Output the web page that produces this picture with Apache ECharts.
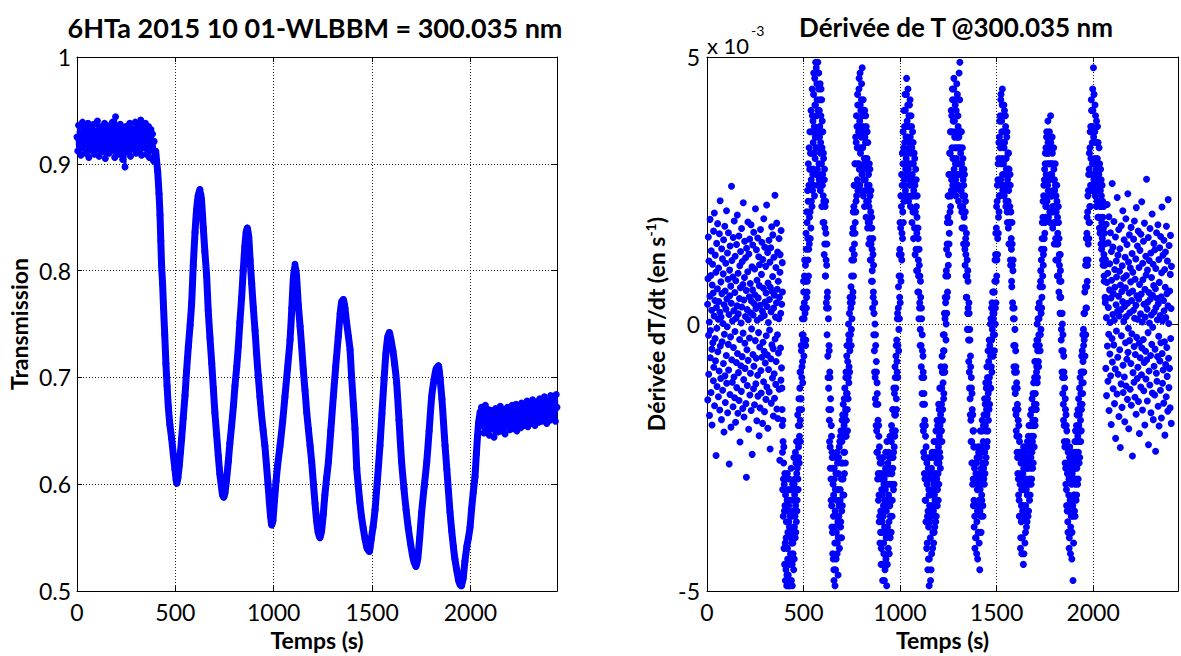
<!DOCTYPE html>
<html><head><meta charset="utf-8">
<script src="https://cdn.jsdelivr.net/npm/echarts@6/dist/echarts.min.js"></script>
<style>html,body{margin:0;padding:0;background:#fff}#c{width:1181px;height:656px}</style>
</head><body><div id="c"></div>
<script>
// ---------- DATA ----------
const timeMin = 0, timeMax = 2440;              // seconds
const timeTickStep = 500;
const transRange = [0.5, 1.0];
const derivRange = [-5, 5];                      // units of 1e-3 s^-1

// Transmission: noisy plateau before the oscillations
const transBeforeT = [0,4,8,12,16,20,24,28,32,36,40,44,48,52,56,60,64,68,72,76,80,84,88,92,96,100,104,108,112,116,120,124,128,132,136,140,144,148,152,156,160,164,168,172,176,180,184,188,192,196,200,204,208,212,216,220,224,228,232,236,240,244,248,252,256,260,264,268,272,276,280,284,288,292,296,300,304,308,312,316,320,324,328,332,336,340,344,348,352,356,360,364,368,372,376,380,384,388,392,396];
const transBeforeV = [0.925,0.912,0.936,0.918,0.930,0.908,0.927,0.939,0.915,0.922,
0.934,0.910,0.929,0.917,0.938,0.906,0.924,0.933,0.913,0.928,
0.919,0.937,0.909,0.926,0.931,0.914,0.940,0.921,0.907,0.932,
0.918,0.935,0.911,0.927,0.923,0.938,0.905,0.929,0.916,0.934,
0.920,0.910,0.936,0.925,0.913,0.939,0.917,0.930,0.906,0.944,
0.921,0.912,0.933,0.926,0.909,0.937,0.919,0.928,0.904,0.932,
0.915,0.897,0.935,0.922,0.911,0.930,0.918,0.938,0.907,0.926,
0.933,0.914,0.929,0.920,0.939,0.910,0.924,0.936,0.912,0.931,
0.917,0.941,0.908,0.927,0.934,0.915,0.922,0.938,0.909,0.930,
0.919,0.935,0.906,0.925,0.932,0.913,0.928,0.903,0.921,0.910];

// Transmission: damped oscillation (t, T)
const transOscillation = [[400,0.912],[405,0.902],[410,0.893],[417,0.872],[422,0.852],[426,0.828],[430,0.805],[435,0.788],[440,0.765],[446,0.740],[452,0.713],[458,0.692],[464,0.673],[472,0.656],[481,0.643],[490,0.627],[498,0.614],[504,0.604],[508,0.601],[513,0.606],[520,0.618],[526,0.630],[532,0.643],[540,0.662],[549,0.683],[557,0.706],[566,0.729],[575,0.749],[583,0.770],[591,0.805],[600,0.836],[608,0.857],[616,0.870],[625,0.876],[633,0.866],[642,0.840],[650,0.818],[659,0.795],[667,0.763],[676,0.737],[685,0.713],[693,0.690],[701,0.667],[710,0.646],[718,0.627],[726,0.610],[734,0.598],[740,0.590],[746,0.588],[752,0.592],[760,0.604],[769,0.621],[777,0.638],[786,0.655],[795,0.673],[803,0.692],[812,0.710],[820,0.729],[828,0.752],[837,0.775],[845,0.800],[853,0.822],[860,0.836],[866,0.840],[873,0.832],[880,0.810],[888,0.788],[896,0.766],[905,0.744],[913,0.722],[921,0.702],[930,0.682],[938,0.665],[946,0.651],[955,0.636],[963,0.618],[971,0.600],[978,0.583],[984,0.570],[990,0.562],[996,0.566],[1004,0.585],[1012,0.603],[1020,0.618],[1032,0.636],[1045,0.658],[1057,0.682],[1070,0.708],[1083,0.735],[1092,0.765],[1100,0.793],[1108,0.806],[1116,0.795],[1125,0.768],[1134,0.748],[1142,0.729],[1150,0.708],[1159,0.688],[1168,0.667],[1176,0.652],[1185,0.636],[1193,0.621],[1202,0.600],[1210,0.582],[1218,0.566],[1226,0.555],[1235,0.550],[1243,0.556],[1252,0.572],[1260,0.590],[1269,0.606],[1278,0.621],[1290,0.650],[1303,0.682],[1315,0.710],[1328,0.738],[1338,0.760],[1346,0.771],[1354,0.773],[1362,0.765],[1370,0.752],[1380,0.738],[1388,0.726],[1396,0.700],[1405,0.675],[1413,0.652],[1422,0.615],[1430,0.598],[1438,0.583],[1446,0.570],[1455,0.559],[1465,0.548],[1475,0.540],[1486,0.537],[1495,0.548],[1505,0.560],[1515,0.576],[1527,0.604],[1540,0.636],[1550,0.666],[1561,0.698],[1570,0.722],[1580,0.738],[1588,0.742],[1596,0.735],[1606,0.725],[1615,0.712],[1625,0.695],[1637,0.660],[1650,0.621],[1662,0.596],[1673,0.576],[1684,0.559],[1695,0.545],[1705,0.534],[1714,0.527],[1723,0.523],[1732,0.530],[1742,0.550],[1752,0.574],[1765,0.598],[1778,0.621],[1790,0.650],[1803,0.682],[1815,0.698],[1826,0.708],[1837,0.711],[1846,0.698],[1855,0.680],[1863,0.658],[1871,0.636],[1880,0.614],[1888,0.594],[1896,0.574],[1905,0.556],[1913,0.542],[1921,0.530],[1930,0.520],[1940,0.510],[1948,0.506],[1955,0.505],[1963,0.512],[1972,0.528],[1982,0.542],[1990,0.550],[1998,0.560],[2006,0.577],[2014,0.592],[2023,0.607],[2030,0.628],[2036,0.645],[2042,0.658],[2050,0.668]];

// Transmission: noisy plateau after the oscillations
const transAfterT = [2056,2060,2064,2068,2072,2076,2080,2084,2088,2092,2096,2100,2104,2108,2112,2116,2120,2124,2128,2132,2136,2140,2144,2148,2152,2156,2160,2164,2168,2172,2176,2180,2184,2188,2192,2196,2200,2204,2208,2212,2216,2220,2224,2228,2232,2236,2240,2244,2248,2252,2256,2260,2264,2268,2272,2276,2280,2284,2288,2292,2296,2300,2304,2308,2312,2316,2320,2324,2328,2332,2336,2340,2344,2348,2352,2356,2360,2364,2368,2372,2376,2380,2384,2388,2392,2396,2400,2404,2408,2412,2416,2420,2424,2428,2432,2436,2440];
const transAfterV = [0.672,0.655,0.668,0.648,0.662,0.674,0.651,0.665,0.658,0.670,
0.646,0.663,0.657,0.669,0.652,0.666,0.644,0.661,0.671,0.654,
0.664,0.649,0.668,0.659,0.673,0.650,0.662,0.667,0.653,0.670,
0.647,0.664,0.658,0.672,0.655,0.666,0.651,0.669,0.660,0.674,
0.652,0.663,0.668,0.656,0.675,0.650,0.665,0.671,0.657,0.667,
0.653,0.676,0.661,0.669,0.655,0.673,0.659,0.664,0.678,0.654,
0.670,0.662,0.675,0.657,0.668,0.679,0.660,0.672,0.655,0.666,
0.677,0.661,0.670,0.658,0.680,0.664,0.673,0.659,0.676,0.667,
0.682,0.662,0.671,0.657,0.678,0.665,0.674,0.660,0.683,0.668,
0.676,0.663,0.681,0.669,0.659,0.684,0.672];

// Derivative (x 1e-3 s^-1): noise cloud before the oscillations
const derivBeforeT = [3,4,5,7,8,9,10,12,13,15,16,17,18,20,21,22,24,25,26,27,29,30,32,33,34,35,37,38,39,41,42,43,44,46,47,49,50,51,52,54,55,56,58,59,60,61,63,64,66,67,68,69,71,72,73,75,76,77,78,80,81,83,84,85,86,88,89,90,92,93,94,95,97,98,100,101,102,103,105,106,107,109,110,111,112,114,115,117,118,119,120,122,123,124,126,127,128,129,131,132,134,135,136,137,139,140,141,143,144,145,146,148,149,151,152,153,154,156,157,158,160,161,162,163,165,166,168,169,170,171,173,174,175,177,178,179,180,182,183,185,186,187,188,190,191,192,194,195,196,197,199,200,202,203,204,205,207,208,209,211,212,213,214,216,217,219,220,221,222,224,225,226,228,229,230,231,233,234,236,237,238,239,241,242,243,245,246,247,248,250,251,253,254,255,256,258,259,260,262,263,264,265,267,268,270,271,272,273,275,276,277,279,280,281,282,284,285,287,288,289,290,292,293,294,296,297,298,299,301,302,304,305,306,307,309,310,311,313,314,315,316,318,319,321,322,323,324,326,327,328,330,331,332,333,335,336,338,339,340,341,343,344,345,347,348,349,350,352,353,355,356,357,358,360,361,362,364,365,366,367,369,370,372,373,374,375,377,378,379,381,382,383,384,386,387,389,390,391];
const derivBeforeV = [0.37,-1.42,0.85,1.63,-0.21,-0.94,1.18,0.04,-1.71,0.52,1.96,-0.63,-0.12,0.91,-1.28,1.37,0.26,-0.47,-1.89,0.73,1.12,-0.35,0.58,-1.06,1.74,-0.81,0.15,2.08,-1.53,0.44,-0.27,1.29,-0.69,0.97,-2.46,0.31,1.51,-0.08,-1.17,0.66,1.88,-0.52,0.09,-1.36,1.05,0.42,-0.88,1.69,-1.61,0.22,2.31,-0.41,-1.02,0.79,0.13,-1.79,1.41,0.57,-0.33,1.22,-1.24,0.01,0.94,-0.74,1.58,-2.02,0.36,-0.19,1.83,-0.97,0.62,-1.47,1.14,0.28,-0.59,2.12,-1.11,0.47,-0.05,1.33,-1.66,0.84,-0.38,1.71,-0.86,0.18,-2.62,1.01,0.53,-1.32,1.46,-0.24,0.71,-1.93,0.39,2.58,-0.67,1.19,-1.09,0.06,0.88,-1.55,1.62,-0.44,0.25,-0.99,1.93,-1.38,0.59,-0.14,1.27,-1.84,0.81,0.11,-0.72,1.49,-1.19,0.34,2.04,-0.55,-1.67,0.95,0.19,-0.91,1.65,-1.43,0.48,-0.29,1.09,-2.21,0.68,1.36,-0.78,0.02,-1.26,1.79,0.32,-0.61,1.17,-1.58,0.74,-0.17,2.27,-1.04,0.45,-1.74,0.87,1.55,-0.36,-0.83,0.14,1.24,-1.49,0.63,-2.87,1.42,-0.48,0.27,-1.15,0.98,1.91,-0.68,0.08,-1.97,1.31,0.51,-0.26,1.59,-1.33,0.76,-0.92,0.21,1.86,-1.62,0.43,-0.09,1.07,-2.44,0.64,1.48,-0.57,0.17,-1.21,1.72,-0.79,0.38,-1.51,1.03,0.55,-0.31,2.16,-1.12,0.29,-0.64,1.39,-1.81,0.82,0.07,-0.96,1.61,-1.35,0.49,-0.16,1.26,-2.09,0.72,1.11,-0.43,-1.57,0.35,1.77,-0.87,0.12,-1.29,0.93,1.53,-0.62,0.24,-1.86,1.21,-0.34,0.67,-1.08,1.97,-0.51,0.16,-1.64,1.44,0.41,-0.73,1.08,-1.41,0.58,-0.22,2.23,-1.18,0.33,-0.58,1.34,-1.95,0.77,0.03,-0.85,1.57,-1.27,0.46,-0.11,1.16,-2.34,0.69,1.43,-0.65,0.23,-1.48,1.82,-0.39,0.61,-1.01,0.89,1.67,-0.46,-1.72,0.30,1.25,-0.93,0.54,-1.39,2.41,-0.28,0.13,-1.13,1.06,-0.70,0.40,1.89,-1.59,0.65,-0.20,1.35,-1.77,0.80,-0.54,0.10,1.60,-1.22,0.50,-2.55,0.97,1.30,-0.45,0.20,-1.05,1.75,-0.82,0.37,-1.60,1.15,0.60,-0.30,2.00];

// Derivative: the initial drop (t, dT/dt)
const derivDrop = [[388,-1.2],[391,-2.4],[393,-1.8],[396,-2.9],[398,-2.3],[401,-3.5],[403,-2.8],[405,-4.1],[407,-3.2],[409,-4.6],[411,-3.7],[413,-4.9],[415,-3.3],[417,-4.2],[419,-3.9],[421,-4.7],[423,-3.4],[425,-4.4],[427,-3.8],[429,-4.9],[431,-3.6],[433,-4.3],[435,-3.1],[437,-4.8],[439,-3.9],[441,-4.5],[443,-3.5],[445,-4.1],[447,-3.3],[449,-4.6],[451,-3.0],[453,-3.8],[455,-2.9],[457,-4.0],[459,-3.4],[461,-2.6],[463,-3.7],[465,-2.8],[467,-3.3],[469,-2.2],[471,-2.9],[473,-1.9],[475,-2.5],[477,-1.6],[479,-2.1],[481,-1.2],[483,-1.8],[485,-0.9],[487,-1.4],[489,-0.5],[491,-1.0],[493,-0.2],[495,-0.7],[497,0.3],[499,-0.3],[501,0.6],[503,0.1],[505,0.9],
[390,-1.9],[392,-3.1],[394,-2.2],[395,-3.6],[397,-2.6],[399,-4.2],[400,-3.0],[402,-4.5],[404,-3.4],[406,-4.8],[408,-2.9],[410,-4.0],[412,-3.5],[414,-4.7],[416,-2.8],[418,-4.4],[420,-3.1],[422,-4.9],[424,-3.7],[426,-2.9],[428,-4.5],[430,-3.3],[432,-4.0],[434,-4.8],[436,-2.7],[438,-4.1],[440,-3.6],[442,-4.9],[444,-3.0],[446,-4.3],[448,-3.8],[450,-2.5],[452,-4.4],[454,-3.2],[456,-3.6],[458,-2.4],[460,-3.9],[462,-3.1],[464,-2.2],[466,-3.5],[468,-2.7],[470,-1.7],[472,-3.1],[474,-2.3],[476,-1.4],[478,-2.6],[480,-1.9],[482,-0.9],[484,-2.2],[486,-1.4],[488,-0.4],[490,-1.6],[492,-0.8],[494,0.1],[496,-1.1],[498,-0.2],[500,0.8],[502,-0.6],[504,0.4],[506,1.2]];

// Derivative: oscillations, even seconds (t, dT/dt)
const derivWaves = [
[508,0.2],[510,1.1],[512,-0.3],[514,1.4],[516,0.5],[518,1.9],[520,0.8],[522,1.6],[524,2.3],[526,0.9],[528,2.6],[530,1.5],[532,2.9],[534,2.1],[536,3.2],[538,1.8],[540,2.7],[542,3.6],[544,2.2],[546,3.9],[548,2.8],[550,3.4],[552,4.3],[554,2.6],[556,3.7],[558,4.6],[560,3.1],[562,4.1],[564,3.3],[566,4.8],[568,3.6],[570,4.2],[572,2.9],[574,4.9],[576,3.5],[578,4.4],[580,3.0],[582,4.0],[584,3.7],[586,4.5],[588,3.2],[590,3.9],[592,2.8],[594,4.2],[596,3.3],[598,2.6],[600,3.6],[602,2.4],[604,3.1],[606,1.9],[608,2.7],[610,1.5],[612,2.2],[614,0.9],[616,1.7],[618,0.4],[620,1.1],[622,-0.2],[624,0.6],
[626,-0.6],[628,0.3],[630,-1.2],[632,-0.4],[634,-1.8],[636,-0.9],[638,-2.3],[640,-1.4],[642,-2.9],[644,-1.9],[646,-3.4],[648,-2.4],[650,-3.9],[652,-2.7],[654,-4.4],[656,-3.2],[658,-4.8],[660,-2.9],[662,-4.1],[664,-3.5],[666,-4.6],[668,-2.8],[670,-3.9],[672,-3.3],[674,-4.3],[676,-2.6],[678,-3.7],[680,-4.0],[682,-2.5],[684,-3.4],[686,-4.2],[688,-2.2],[690,-3.1],[692,-3.8],[694,-2.0],[696,-2.9],[698,-3.5],[700,-1.8],[702,-2.6],[704,-3.2],[706,-1.5],[708,-2.4],[710,-1.9],[712,-2.8],[714,-1.2],[716,-2.1],[718,-1.6],[720,-0.9],[722,-1.8],[724,-0.6],[726,-1.3],[728,-2.0],[730,-0.4],[732,-1.0],[734,-0.2],[736,-0.8],[738,0.2],[740,-0.5],[742,0.4],
[745,0.3],[747,-0.4],[749,0.9],[751,0.1],[753,1.4],[755,0.5],[757,1.8],[759,0.9],[761,2.2],[763,1.3],[765,2.6],[767,1.7],[769,3.0],[771,2.1],[773,3.4],[775,2.4],[777,3.7],[779,2.7],[781,4.1],[783,3.0],[785,3.6],[787,4.4],[789,2.9],[791,3.8],[793,4.7],[795,3.2],[797,4.0],[799,3.5],[801,4.5],[803,2.8],[805,3.9],[807,3.3],[809,4.2],[811,2.7],[813,3.6],[815,3.1],[817,4.0],[819,2.5],[821,3.4],[823,2.9],[825,3.7],[827,2.3],[829,3.1],[831,2.6],[833,3.4],[835,1.9],[837,2.8],[839,2.2],[841,3.0],[843,1.6],[845,2.4],[847,1.8],[849,2.5],[851,1.2],[853,2.0],[855,1.4],[857,0.8],[859,1.6],[861,0.5],[863,1.1],[865,0.2],
[867,-0.5],[869,0.4],[871,-1.0],[873,-0.2],[875,-1.5],[877,-0.7],[879,-2.0],[881,-1.1],[883,-2.4],[885,-1.5],[887,-2.8],[889,-1.9],[891,-3.2],[893,-2.3],[895,-3.6],[897,-2.6],[899,-3.9],[901,-2.9],[903,-4.2],[905,-3.1],[907,-3.7],[909,-4.5],[911,-2.8],[913,-3.6],[915,-4.1],[917,-3.0],[919,-4.8],[921,-3.3],[923,-3.9],[925,-2.7],[927,-4.4],[929,-3.5],[931,-4.9],[933,-3.0],[935,-3.8],[937,-2.6],[939,-4.2],[941,-3.2],[943,-3.7],[945,-2.5],[947,-3.4],[949,-4.0],[951,-2.7],[953,-3.3],[955,-2.2],[957,-3.0],[959,-3.6],[961,-2.0],[963,-2.7],[965,-1.6],[967,-2.4],[969,-3.0],[971,-1.3],[973,-2.1],[975,-1.0],[977,-1.7],[979,-0.6],[981,-1.4],[983,-0.3],[985,-0.9],[987,0.2],[989,-0.4],
[991,0.3],[993,-0.5],[995,0.9],[997,0.1],[999,1.4],[1001,0.4],[1003,1.8],[1005,0.8],[1007,2.2],[1009,1.2],[1011,2.6],[1013,1.6],[1015,3.0],[1017,1.9],[1019,3.3],[1021,2.3],[1023,3.7],[1025,2.6],[1027,4.0],[1029,2.9],[1031,3.5],[1033,4.3],[1035,2.8],[1037,3.8],[1039,3.2],[1041,4.4],[1043,2.9],[1045,3.7],[1047,3.3],[1049,4.1],[1051,2.6],[1053,3.5],[1055,3.0],[1057,3.9],[1059,2.4],[1061,3.3],[1063,2.8],[1065,3.6],[1067,2.1],[1069,3.0],[1071,2.5],[1073,3.2],[1075,1.8],[1077,2.6],[1079,2.1],[1081,2.9],[1083,1.4],[1085,2.2],[1087,1.7],[1089,2.4],[1091,1.0],[1093,1.8],[1095,1.2],[1097,0.6],[1099,1.4],[1101,0.3],[1103,0.9],[1105,-0.1],[1107,0.5],
[1109,-0.4],[1111,0.3],[1113,-1.0],[1115,-0.2],[1117,-1.5],[1119,-0.6],[1121,-2.0],[1123,-1.0],[1125,-2.5],[1127,-1.5],[1129,-2.9],[1131,-1.9],[1133,-3.3],[1135,-2.3],[1137,-3.7],[1139,-2.6],[1141,-4.1],[1143,-2.9],[1145,-3.5],[1147,-4.4],[1149,-3.1],[1151,-4.9],[1153,-3.4],[1155,-2.8],[1157,-4.0],[1159,-3.2],[1161,-4.6],[1163,-2.7],[1165,-3.6],[1167,-3.1],[1169,-4.2],[1171,-2.5],[1173,-3.5],[1175,-3.0],[1177,-3.9],[1179,-2.4],[1181,-3.3],[1183,-2.8],[1185,-3.7],[1187,-2.2],[1189,-3.1],[1191,-2.6],[1193,-3.4],[1195,-1.9],[1197,-2.8],[1199,-2.3],[1201,-3.0],[1203,-1.6],[1205,-2.4],[1207,-1.9],[1209,-2.7],[1211,-1.2],[1213,-2.0],[1215,-1.5],[1217,-2.2],[1219,-0.9],[1221,-1.6],[1223,-1.1],[1225,-0.5],[1227,-1.3],[1229,-0.2],[1231,-0.8],[1233,0.1],
[1236,0.4],[1238,-0.3],[1240,1.0],[1242,0.2],[1244,1.5],[1246,0.6],[1248,2.0],[1250,1.1],[1252,2.4],[1254,1.5],[1256,2.8],[1258,1.9],[1260,3.2],[1262,2.2],[1264,3.6],[1266,2.5],[1268,3.9],[1270,2.8],[1272,4.2],[1274,3.1],[1276,3.6],[1278,4.4],[1280,2.9],[1282,3.8],[1284,3.3],[1286,4.1],[1288,2.7],[1290,3.6],[1292,3.1],[1294,4.5],[1296,2.8],[1298,3.5],[1300,3.9],[1302,2.6],[1304,3.3],[1306,4.7],[1308,3.0],[1310,4.9],[1312,2.5],[1314,3.2],[1316,2.8],[1318,3.6],[1320,2.1],[1322,2.9],[1324,2.4],[1326,3.1],[1328,1.8],[1330,2.6],[1332,2.0],[1334,2.8],[1336,1.4],[1338,2.1],[1340,1.6],[1342,0.9],[1344,1.7],[1346,0.5],[1348,1.2],[1350,0.2],[1352,0.8],
[1355,-0.3],[1357,0.4],[1359,-0.9],[1361,-0.1],[1363,-1.4],[1365,-0.6],[1367,-1.8],[1369,-1.0],[1371,-2.2],[1373,-1.3],[1375,-2.6],[1377,-1.7],[1379,-2.9],[1381,-2.0],[1383,-3.3],[1385,-2.3],[1387,-3.6],[1389,-2.6],[1391,-4.0],[1393,-2.8],[1395,-3.4],[1397,-4.3],[1399,-2.5],[1401,-3.5],[1403,-3.0],[1405,-3.9],[1407,-2.4],[1409,-3.3],[1411,-2.8],[1413,-4.6],[1415,-3.1],[1417,-2.3],[1419,-3.6],[1421,-2.7],[1423,-3.2],[1425,-2.0],[1427,-2.9],[1429,-3.4],[1431,-2.2],[1433,-2.7],[1435,-1.7],[1437,-3.0],[1439,-2.4],[1441,-1.5],[1443,-2.6],[1445,-2.0],[1447,-1.2],[1449,-2.3],[1451,-1.7],[1453,-1.0],[1455,-2.0],[1457,-1.3],[1459,-0.7],[1461,-1.6],[1463,-1.0],[1465,-0.4],[1467,-1.2],[1469,-0.6],[1471,0.1],[1473,-0.8],[1475,-0.3],[1477,0.4],[1479,-0.5],[1481,0.2],[1483,-0.2],[1485,0.6],
[1487,0.2],[1489,-0.5],[1491,0.8],[1493,0.0],[1495,1.3],[1497,0.4],[1499,1.8],[1501,0.9],[1503,2.3],[1505,1.3],[1507,2.7],[1509,1.7],[1511,3.1],[1513,2.1],[1515,3.5],[1517,2.4],[1519,3.9],[1521,2.7],[1523,4.3],[1525,3.0],[1527,3.6],[1529,4.1],[1531,2.8],[1533,3.4],[1535,3.9],[1537,2.6],[1539,3.3],[1541,4.0],[1543,2.5],[1545,3.1],[1547,3.7],[1549,2.3],[1551,2.9],[1553,3.5],[1555,2.1],[1557,2.7],[1559,3.2],[1561,1.8],[1563,2.5],[1565,2.9],[1567,1.5],[1569,2.2],[1571,2.6],[1573,1.1],[1575,1.9],[1577,1.4],[1579,0.7],[1581,1.5],[1583,0.4],[1585,1.0],[1587,0.1],
[1589,-0.4],[1591,0.3],[1593,-0.9],[1595,-0.1],[1597,-1.3],[1599,-0.5],[1601,-1.7],[1603,-0.9],[1605,-2.1],[1607,-1.2],[1609,-2.5],[1611,-1.6],[1613,-2.9],[1615,-1.9],[1617,-3.3],[1619,-2.2],[1621,-3.6],[1623,-2.5],[1625,-4.0],[1627,-2.8],[1629,-3.4],[1631,-4.3],[1633,-2.6],[1635,-3.5],[1637,-3.0],[1639,-4.5],[1641,-2.7],[1643,-3.6],[1645,-3.1],[1647,-4.1],[1649,-2.5],[1651,-3.4],[1653,-2.9],[1655,-3.8],[1657,-2.3],[1659,-3.2],[1661,-2.7],[1663,-3.6],[1665,-2.1],[1667,-3.0],[1669,-2.5],[1671,-3.3],[1673,-1.9],[1675,-2.7],[1677,-2.2],[1679,-3.0],[1681,-1.6],[1683,-2.4],[1685,-1.9],[1687,-2.7],[1689,-1.3],[1691,-2.1],[1693,-1.6],[1695,-2.3],[1697,-1.0],[1699,-1.8],[1701,-1.3],[1703,-0.7],[1705,-1.5],[1707,-0.9],[1709,-0.3],[1711,-1.1],[1713,-0.5],[1715,0.1],[1717,-0.7],[1719,-0.2],[1721,0.4],
[1724,0.3],[1726,-0.5],[1728,0.8],[1730,-0.1],[1732,1.2],[1734,0.3],[1736,1.6],[1738,0.7],[1740,2.0],[1742,1.1],[1744,2.4],[1746,1.4],[1748,2.7],[1750,1.7],[1752,3.0],[1754,2.0],[1756,3.3],[1758,2.2],[1760,3.6],[1762,2.4],[1764,3.0],[1766,3.8],[1768,2.5],[1770,3.2],[1772,2.7],[1774,3.6],[1776,2.1],[1778,3.0],[1780,3.9],[1782,2.4],[1784,3.3],[1786,2.8],[1788,3.5],[1790,2.2],[1792,3.0],[1794,2.5],[1796,3.3],[1798,1.9],[1800,2.7],[1802,2.2],[1804,3.0],[1806,1.6],[1808,2.4],[1810,1.9],[1812,2.6],[1814,1.2],[1816,2.0],[1818,1.5],[1820,2.2],[1822,0.9],[1824,1.6],[1826,1.1],[1828,0.5],[1830,1.3],[1832,0.2],[1834,0.8],[1836,-0.1],
[1838,-0.5],[1840,0.2],[1842,-1.0],[1844,-0.2],[1846,-1.5],[1848,-0.6],[1850,-1.9],[1852,-1.0],[1854,-2.3],[1856,-1.4],[1858,-2.7],[1860,-1.7],[1862,-3.1],[1864,-2.0],[1866,-3.5],[1868,-2.3],[1870,-3.9],[1872,-2.6],[1874,-3.2],[1876,-4.2],[1878,-2.5],[1880,-3.4],[1882,-2.9],[1884,-3.8],[1886,-2.4],[1888,-3.3],[1890,-4.4],[1892,-2.8],[1894,-3.6],[1896,-4.8],[1898,-2.6],[1900,-3.2],[1902,-2.7],[1904,-3.5],[1906,-2.2],[1908,-3.0],[1910,-2.5],[1912,-3.3],[1914,-1.9],[1916,-2.7],[1918,-2.2],[1920,-3.0],[1922,-1.6],[1924,-2.4],[1926,-1.9],[1928,-2.6],[1930,-1.2],[1932,-2.0],[1934,-1.5],[1936,-2.2],[1938,-0.9],[1940,-1.6],[1942,-1.1],[1944,-0.5],[1946,-1.3],[1948,-0.7],[1950,-0.1],[1952,-0.9],[1954,-0.3],
[1956,0.2],[1958,-0.6],[1960,0.7],[1962,-0.2],[1964,1.2],[1966,0.3],[1968,1.7],[1970,0.8],[1972,2.1],[1974,1.2],[1976,2.5],[1978,1.6],[1980,2.9],[1982,1.9],[1984,3.3],[1986,2.2],[1988,3.7],[1990,2.5],[1992,4.0],[1994,2.8],[1996,3.4],[1998,4.4],[2000,3.0],[2002,4.8],[2004,2.7],[2006,3.6],[2008,3.1],[2010,4.1],[2012,2.5],[2014,3.4],[2016,2.9],[2018,3.8],[2020,2.3],[2022,3.1],[2024,2.6],[2026,3.4],[2028,2.0],[2030,2.8],[2032,2.3],[2034,3.0],[2036,1.7],[2038,2.5],[2040,2.0],[2042,2.7],[2044,1.4],[2046,2.2],[2048,1.6],[2050,2.3],[2052,1.1],[2054,1.8],[2056,1.3],[2058,0.8],[2060,1.5],[2062,0.5]];

// Derivative: oscillations, odd seconds (t, dT/dt)
const derivWavesOdd = [
[509,0.8],[511,-0.4],[513,1.7],[515,0.3],[517,2.1],[519,0.6],[521,2.5],[523,1.2],[525,3.0],[527,1.4],[529,3.3],[531,2.0],[533,3.6],[535,1.6],[537,2.9],[539,4.0],[541,2.3],[543,3.2],[545,4.4],[547,2.5],[549,3.8],[551,2.9],[553,4.7],[555,3.2],[557,2.4],[559,4.1],[561,3.5],[563,4.9],[565,2.8],[567,3.9],[569,4.5],[571,3.3],[573,2.6],[575,4.0],[577,3.6],[579,4.7],[581,2.7],[583,3.5],[585,4.2],[587,2.5],[589,3.4],[591,4.4],[593,3.0],[595,2.2],[597,3.8],[599,2.8],[601,1.9],[603,3.2],[605,2.3],[607,1.3],[609,2.9],[611,1.8],[613,0.9],[615,2.3],[617,1.2],[619,0.3],[621,1.5],[623,0.5],
[627,-1.0],[629,0.1],[631,-1.6],[633,-0.5],[635,-2.2],[637,-1.0],[639,-2.7],[641,-1.6],[643,-3.3],[645,-2.1],[647,-3.8],[649,-2.5],[651,-4.3],[653,-3.0],[655,-3.6],[657,-4.6],[659,-2.7],[661,-3.8],[663,-4.9],[665,-3.1],[667,-2.5],[669,-4.4],[671,-3.6],[673,-2.4],[675,-4.1],[677,-3.1],[679,-4.7],[681,-2.8],[683,-3.6],[685,-2.3],[687,-4.0],[689,-3.3],[691,-2.1],[693,-3.7],[695,-2.6],[697,-4.0],[699,-2.2],[701,-3.4],[703,-1.7],[705,-2.9],[707,-2.0],[709,-3.2],[711,-1.4],[713,-2.4],[715,-1.7],[717,-2.6],[719,-1.0],[721,-2.1],[723,-1.3],[725,-0.4],[727,-1.6],[729,-0.7],[731,-1.4],[733,0.0],[735,-1.1],[737,-0.3],[739,-0.9],[741,0.5],[743,-0.2],
[746,0.7],[748,-0.1],[750,1.2],[752,0.4],[754,1.7],[756,0.6],[758,2.1],[760,1.2],[762,2.6],[764,1.5],[766,3.0],[768,1.9],[770,3.5],[772,2.3],[774,3.9],[776,2.6],[778,3.3],[780,4.3],[782,2.5],[784,3.7],[786,3.0],[788,4.6],[790,3.3],[792,2.6],[794,4.1],[796,3.6],[798,2.5],[800,4.2],[802,3.3],[804,4.8],[806,2.9],[808,3.7],[810,2.4],[812,4.0],[814,3.0],[816,2.2],[818,3.5],[820,2.7],[822,3.9],[824,2.0],[826,3.1],[828,2.5],[830,3.6],[832,1.8],[834,2.9],[836,2.3],[838,1.5],[840,2.6],[842,1.9],[844,2.9],[846,1.2],[848,2.1],[850,1.5],[852,0.8],[854,1.8],[856,1.0],[858,0.3],[860,1.3],[862,0.6],[864,-0.2],
[868,-0.9],[870,0.0],[872,-1.4],[874,-0.4],[876,-1.9],[878,-0.9],[880,-2.4],[882,-1.3],[884,-2.9],[886,-1.8],[888,-3.3],[890,-2.1],[892,-3.7],[894,-2.5],[896,-4.1],[898,-2.8],[900,-3.5],[902,-4.5],[904,-2.6],[906,-3.9],[908,-3.2],[910,-4.8],[912,-2.5],[914,-3.4],[916,-4.3],[918,-2.9],[920,-3.8],[922,-4.6],[924,-3.1],[926,-2.4],[928,-4.0],[930,-3.3],[932,-2.2],[934,-4.5],[936,-3.4],[938,-2.8],[940,-3.9],[942,-2.4],[944,-4.3],[946,-3.0],[948,-2.1],[950,-3.6],[952,-2.5],[954,-3.9],[956,-1.9],[958,-2.8],[960,-3.3],[962,-1.6],[964,-2.5],[966,-3.1],[968,-1.2],[970,-2.3],[972,-1.7],[974,-0.8],[976,-2.0],[978,-1.2],[980,-0.4],[982,-1.6],[984,-0.7],[986,0.1],[988,-1.0],
[992,0.7],[994,-0.1],[996,1.3],[998,0.5],[1000,1.9],[1002,0.9],[1004,2.4],[1006,1.3],[1008,2.8],[1010,1.7],[1012,3.2],[1014,2.1],[1016,3.6],[1018,2.4],[1020,4.0],[1022,2.7],[1024,3.4],[1026,4.3],[1028,2.5],[1030,3.7],[1032,3.1],[1034,4.6],[1036,2.4],[1038,3.5],[1040,4.1],[1042,3.0],[1044,2.3],[1046,3.9],[1048,2.7],[1050,3.4],[1052,4.2],[1054,2.2],[1056,3.2],[1058,2.7],[1060,3.7],[1062,1.9],[1064,3.0],[1066,2.4],[1068,3.4],[1070,1.6],[1072,2.7],[1074,2.1],[1076,3.1],[1078,1.3],[1080,2.4],[1082,1.8],[1084,2.7],[1086,1.0],[1088,2.0],[1090,1.4],[1092,0.6],[1094,1.6],[1096,0.9],[1098,0.1],[1100,1.1],[1102,0.4],[1104,-0.4],[1106,0.8],
[1110,-0.8],[1112,0.1],[1114,-1.3],[1116,-0.5],[1118,-1.9],[1120,-0.9],[1122,-2.4],[1124,-1.3],[1126,-2.8],[1128,-1.8],[1130,-3.3],[1132,-2.1],[1134,-3.7],[1136,-2.5],[1138,-4.2],[1140,-3.0],[1142,-3.6],[1144,-4.6],[1146,-2.7],[1148,-3.8],[1150,-3.2],[1152,-4.4],[1154,-2.5],[1156,-3.7],[1158,-4.8],[1160,-2.9],[1162,-3.5],[1164,-4.3],[1166,-2.4],[1168,-3.4],[1170,-3.9],[1172,-2.9],[1174,-4.1],[1176,-2.2],[1178,-3.2],[1180,-3.8],[1182,-2.5],[1184,-3.4],[1186,-2.0],[1188,-3.6],[1190,-2.9],[1192,-1.8],[1194,-3.1],[1196,-2.4],[1198,-3.3],[1200,-1.5],[1202,-2.6],[1204,-2.1],[1206,-1.2],[1208,-2.5],[1210,-1.7],[1212,-0.8],[1214,-2.0],[1216,-1.2],[1218,-0.6],[1220,-1.8],[1222,-0.9],[1224,-0.2],[1226,-1.4],[1228,-0.5],[1230,0.2],[1232,-0.9],[1234,0.5],
[1237,0.9],[1239,0.0],[1241,1.4],[1243,0.5],[1245,1.9],[1247,0.9],[1249,2.4],[1251,1.3],[1253,2.8],[1255,1.7],[1257,3.2],[1259,2.1],[1261,3.6],[1263,2.4],[1265,4.0],[1267,2.7],[1269,3.3],[1271,4.4],[1273,2.6],[1275,3.8],[1277,3.1],[1279,4.6],[1281,2.5],[1283,3.5],[1285,4.2],[1287,3.0],[1289,2.4],[1291,4.0],[1293,3.3],[1295,2.6],[1297,4.3],[1299,3.0],[1301,3.7],[1303,2.3],[1305,3.5],[1307,2.8],[1309,4.2],[1311,3.3],[1313,2.2],[1315,3.6],[1317,2.5],[1319,3.0],[1321,1.8],[1323,3.3],[1325,2.2],[1327,2.7],[1329,1.5],[1331,2.9],[1333,1.8],[1335,2.4],[1337,1.1],[1339,2.3],[1341,1.3],[1343,0.5],[1345,1.5],[1347,0.9],[1349,-0.1],[1351,1.0],[1353,0.3],
[1356,-0.7],[1358,0.2],[1360,-1.2],[1362,-0.3],[1364,-1.7],[1366,-0.8],[1368,-2.2],[1370,-1.2],[1372,-2.6],[1374,-1.6],[1376,-3.0],[1378,-2.0],[1380,-3.4],[1382,-2.3],[1384,-3.8],[1386,-2.7],[1388,-4.2],[1390,-2.9],[1392,-3.4],[1394,-4.0],[1396,-2.6],[1398,-3.7],[1400,-3.1],[1402,-4.4],[1404,-2.3],[1406,-3.4],[1408,-2.9],[1410,-4.1],[1412,-2.5],[1414,-3.5],[1416,-2.0],[1418,-3.0],[1420,-3.9],[1422,-2.4],[1424,-3.3],[1426,-1.8],[1428,-2.6],[1430,-3.6],[1432,-1.9],[1434,-2.9],[1436,-2.3],[1438,-1.4],[1440,-2.8],[1442,-1.9],[1444,-1.1],[1446,-2.5],[1448,-1.6],[1450,-0.8],[1452,-2.2],[1454,-1.4],[1456,-0.5],[1458,-1.8],[1460,-1.1],[1462,-0.3],[1464,-1.5],[1466,-0.8],[1468,0.0],[1470,-1.2],[1472,-0.5],[1474,0.3],[1476,-0.9],[1478,-0.1],[1480,0.6],[1482,-0.6],[1484,0.1],
[1488,0.6],[1490,-0.2],[1492,1.2],[1494,0.3],[1496,1.7],[1498,0.8],[1500,2.2],[1502,1.2],[1504,2.6],[1506,1.6],[1508,3.0],[1510,2.0],[1512,3.4],[1514,2.4],[1516,3.8],[1518,2.7],[1520,3.3],[1522,4.2],[1524,2.6],[1526,3.8],[1528,3.1],[1530,4.4],[1532,2.5],[1534,3.6],[1536,3.0],[1538,4.1],[1540,2.4],[1542,3.4],[1544,2.8],[1546,3.9],[1548,2.2],[1550,3.1],[1552,2.6],[1554,3.6],[1556,1.9],[1558,2.9],[1560,2.3],[1562,3.2],[1564,1.5],[1566,2.6],[1568,1.9],[1570,2.8],[1572,1.2],[1574,2.1],[1576,1.6],[1578,0.8],[1580,1.9],[1582,1.1],[1584,0.3],[1586,1.2],
[1590,-0.8],[1592,0.1],[1594,-1.2],[1596,-0.4],[1598,-1.6],[1600,-0.8],[1602,-2.0],[1604,-1.1],[1606,-2.4],[1608,-1.5],[1610,-2.8],[1612,-1.8],[1614,-3.2],[1616,-2.1],[1618,-3.6],[1620,-2.4],[1622,-3.0],[1624,-4.2],[1626,-2.6],[1628,-3.7],[1630,-3.1],[1632,-2.4],[1634,-4.0],[1636,-2.8],[1638,-3.4],[1640,-2.3],[1642,-4.3],[1644,-2.9],[1646,-3.6],[1648,-2.6],[1650,-3.9],[1652,-2.4],[1654,-3.1],[1656,-2.7],[1658,-3.7],[1660,-2.2],[1662,-3.2],[1664,-2.6],[1666,-3.5],[1668,-1.9],[1670,-2.9],[1672,-2.3],[1674,-3.2],[1676,-1.7],[1678,-2.5],[1680,-2.1],[1682,-2.9],[1684,-1.4],[1686,-2.2],[1688,-1.8],[1690,-2.6],[1692,-1.1],[1694,-1.9],[1696,-1.5],[1698,-0.7],[1700,-1.9],[1702,-1.0],[1704,-0.4],[1706,-1.6],[1708,-0.8],[1710,0.0],[1712,-1.0],[1714,-0.3],[1716,0.3],[1718,-0.8],[1720,0.1],[1722,-0.4],
[1725,0.7],[1727,-0.2],[1729,1.0],[1731,0.2],[1733,1.4],[1735,0.5],[1737,1.9],[1739,0.9],[1741,2.3],[1743,1.3],[1745,2.6],[1747,1.6],[1749,2.9],[1751,1.9],[1753,3.2],[1755,2.2],[1757,2.8],[1759,3.5],[1761,2.3],[1763,3.2],[1765,2.6],[1767,3.4],[1769,2.0],[1771,3.0],[1773,2.4],[1775,3.3],[1777,1.9],[1779,2.8],[1781,3.4],[1783,2.1],[1785,3.0],[1787,2.4],[1789,3.2],[1791,1.8],[1793,2.7],[1795,2.1],[1797,2.9],[1799,1.5],[1801,2.5],[1803,1.9],[1805,2.6],[1807,1.2],[1809,2.1],[1811,1.5],[1813,2.3],[1815,0.9],[1817,1.7],[1819,1.2],[1821,1.9],[1823,0.6],[1825,1.3],[1827,0.8],[1829,0.2],[1831,1.0],[1833,0.5],[1835,-0.3],
[1839,-0.9],[1841,0.0],[1843,-1.3],[1845,-0.5],[1847,-1.8],[1849,-0.9],[1851,-2.2],[1853,-1.2],[1855,-2.6],[1857,-1.6],[1859,-3.0],[1861,-1.9],[1863,-3.4],[1865,-2.2],[1867,-2.8],[1869,-3.7],[1871,-2.4],[1873,-3.5],[1875,-2.9],[1877,-4.0],[1879,-2.3],[1881,-3.3],[1883,-4.3],[1885,-2.7],[1887,-3.6],[1889,-3.0],[1891,-3.9],[1893,-2.5],[1895,-3.4],[1897,-2.9],[1899,-4.1],[1901,-2.4],[1903,-3.2],[1905,-2.7],[1907,-3.6],[1909,-2.0],[1911,-2.9],[1913,-2.4],[1915,-3.2],[1917,-1.7],[1919,-2.6],[1921,-2.1],[1923,-2.9],[1925,-1.4],[1927,-2.2],[1929,-1.7],[1931,-2.5],[1933,-1.0],[1935,-1.8],[1937,-1.3],[1939,-2.0],[1941,-0.6],[1943,-1.5],[1945,-0.9],[1947,-0.2],[1949,-1.1],[1951,-0.4],[1953,0.2],
[1957,0.6],[1959,-0.2],[1961,1.1],[1963,0.3],[1965,1.6],[1967,0.7],[1969,2.0],[1971,1.1],[1973,2.4],[1975,1.5],[1977,2.8],[1979,1.9],[1981,3.2],[1983,2.2],[1985,3.6],[1987,2.6],[1989,3.1],[1991,4.2],[1993,2.5],[1995,3.7],[1997,3.0],[1999,4.0],[2001,2.6],[2003,3.5],[2005,4.3],[2007,2.8],[2009,3.6],[2011,2.4],[2013,3.9],[2015,3.0],[2017,2.2],[2019,3.4],[2021,2.7],[2023,3.7],[2025,2.0],[2027,3.0],[2029,2.5],[2031,3.3],[2033,1.8],[2035,2.7],[2037,2.2],[2039,2.9],[2041,1.5],[2043,2.4],[2045,1.9],[2047,2.6],[2049,1.2],[2051,2.0],[2053,1.5],[2055,2.2],[2057,0.9],[2059,1.7],[2061,1.1],[2063,0.4]];

// Derivative: noise cloud after the oscillations
const derivAfterT = [2064,2065,2066,2068,2069,2070,2071,2073,2074,2076,2077,2078,2079,2081,2082,2083,2085,2086,2087,2088,2090,2091,2093,2094,2095,2096,2098,2099,2100,2102,2103,2104,2105,2107,2108,2110,2111,2112,2113,2115,2116,2117,2119,2120,2121,2122,2124,2125,2127,2128,2129,2130,2132,2133,2134,2136,2137,2138,2139,2141,2142,2144,2145,2146,2147,2149,2150,2151,2153,2154,2155,2156,2158,2159,2161,2162,2163,2164,2166,2167,2168,2170,2171,2172,2173,2175,2176,2178,2179,2180,2181,2183,2184,2185,2187,2188,2189,2190,2192,2193,2195,2196,2197,2198,2200,2201,2202,2204,2205,2206,2207,2209,2210,2212,2213,2214,2215,2217,2218,2219,2221,2222,2223,2224,2226,2227,2229,2230,2231,2232,2234,2235,2236,2238,2239,2240,2241,2243,2244,2246,2247,2248,2249,2251,2252,2253,2255,2256,2257,2258,2260,2261,2263,2264,2265,2266,2268,2269,2270,2272,2273,2274,2275,2277,2278,2280,2281,2282,2283,2285,2286,2287,2289,2290,2291,2292,2294,2295,2297,2298,2299,2300,2302,2303,2304,2306,2307,2308,2309,2311,2312,2314,2315,2316,2317,2319,2320,2321,2323,2324,2325,2326,2328,2329,2331,2332,2333,2334,2336,2337,2338,2340,2341,2342,2343,2345,2346,2348,2349,2350,2351,2353,2354,2355,2357,2358,2359,2360,2362,2363,2365,2366,2367,2368,2370,2371,2372,2374,2375,2376,2377,2379,2380,2382,2383,2384,2385,2387,2388,2389,2391,2392,2393,2394,2396,2397,2399,2400,2401,2402,2404,2405,2406,2408,2409,2410,2411,2413,2414,2416,2417,2418,2419,2421,2422,2423,2425,2426,2427,2428,2430,2431,2433,2434,2435,2436,2438,2439,2440];
const derivAfterV = [1.21,0.46,-0.83,1.87,0.12,-1.34,0.78,2.24,-0.41,0.95,-1.07,1.52,0.31,-0.19,2.01,-1.62,0.64,1.13,-0.56,0.03,1.71,-0.97,0.49,-1.88,1.36,0.82,-0.27,2.63,-0.71,0.18,1.44,-1.21,0.57,-0.39,1.92,0.07,-1.49,1.02,0.69,-0.84,1.63,-2.14,0.36,1.18,-0.13,0.88,-1.31,2.37,0.24,-0.62,1.29,-0.94,0.52,1.77,-1.73,0.15,0.99,-0.48,1.41,-2.31,0.73,0.27,-1.12,1.84,-0.22,0.61,-1.56,1.09,0.42,2.12,-0.77,-1.28,0.86,0.05,1.58,-0.99,0.33,-1.83,1.25,0.68,-0.35,1.97,-1.16,0.14,0.91,-0.66,1.49,-1.41,0.39,2.44,-0.53,-0.08,1.16,-1.96,0.58,1.67,-0.31,0.21,-1.22,1.05,0.79,-0.74,1.81,-1.52,0.44,-0.18,1.32,-2.47,0.62,0.97,-0.91,0.26,1.59,-1.09,-0.42,1.93,0.11,-1.37,0.84,-0.57,1.22,0.35,-1.69,2.18,-0.25,0.53,-1.02,1.46,0.09,-0.81,1.74,-1.45,0.47,1.06,-0.36,-2.05,0.74,1.38,-0.63,0.19,-1.18,1.68,0.56,-0.95,2.29,-0.45,0.04,-1.61,1.14,0.83,-0.29,1.55,-1.25,0.37,-0.72,1.89,-1.89,0.65,0.13,-0.51,1.27,-1.03,0.92,2.71,-0.67,0.28,-1.44,1.01,0.41,-0.16,1.62,-2.26,0.59,-0.88,1.19,0.02,-1.14,1.79,0.47,-0.59,1.33,-1.66,0.17,0.87,-0.38,2.06,-1.29,0.54,-0.06,1.12,-1.79,0.72,1.51,-0.79,0.23,-1.33,1.39,-0.47,0.66,-2.38,1.04,0.31,-0.92,1.71,-1.07,0.48,0.08,-0.61,1.86,-1.54,0.38,-0.23,1.21,-1.91,0.78,1.43,-0.69,0.16,-1.24,1.64,-0.35,0.51,-1.76,0.96,2.19,-0.55,0.06,-1.11,1.29,-0.86,0.44,-1.48,1.57,0.25,-0.33,1.02,-2.08,0.69,1.35,-0.76,0.12,-1.36,1.83,-0.44,0.57,-0.98,1.18,-1.63,0.34,2.33,-0.64,0.01,-1.19,1.47,-0.83,0.62,-1.57,0.93,1.66,-0.27,0.29,-1.86,1.08];

// ---------- CHART ----------
const BLUE = '#0000ff';
const FONT = 'Lato';
function zip(ts, vs){ const n = Math.min(ts.length, vs.length); const out = []; for (let i = 0; i < n; i++) out.push([ts[i], vs[i]]); return out; }

const gridLine = { show: true, lineStyle: { color: '#222', type: [1, 2], width: 1 } };
const tick = { show: true, inside: true, length: 5, lineStyle: { color: '#000' } };
const line = { show: true, onZero: false, lineStyle: { color: '#000', width: 1 } };
const labelStyle = { color: '#000', fontFamily: FONT, fontSize: 23 };
const nameStyle = { color: '#000', fontFamily: FONT, fontSize: 23, fontWeight: 'bold' };

function bottomX(grid) {
  return { type: 'value', gridIndex: grid, position: 'bottom', min: timeMin, max: timeMax, interval: timeTickStep,
    axisLine: line, axisTick: tick, splitLine: gridLine,
    axisLabel: Object.assign({ margin: 9, formatter: v => (v % timeTickStep === 0 ? String(v) : '') }, labelStyle),
    name: 'Temps (s)', nameLocation: 'middle', nameGap: 33, nameTextStyle: nameStyle };
}
function topX(grid) {
  return { type: 'value', gridIndex: grid, position: 'top', min: timeMin, max: timeMax, interval: timeTickStep,
    axisLine: line, axisTick: tick, splitLine: { show: false }, axisLabel: { show: false } };
}
function rightY(grid, r, step) {
  return { type: 'value', gridIndex: grid, position: 'right', min: r[0], max: r[1], interval: step,
    axisLine: line, axisTick: tick, splitLine: { show: false }, axisLabel: { show: false } };
}
function dots(name, data) {
  return { name, type: 'scatter', xAxisIndex: 2, yAxisIndex: 2, data, symbolSize: 7, itemStyle: { color: BLUE, opacity: 1 } };
}

const option = {
  animation: false,
  backgroundColor: '#fff',
  grid: [
    { left: 77, top: 57, width: 480, height: 540 },
    { left: 707, top: 57, width: 481, height: 540 }
  ],
  xAxis: [bottomX(0), topX(0), bottomX(1), topX(1)],
  yAxis: [
    { type: 'value', gridIndex: 0, position: 'left', min: transRange[0], max: transRange[1], interval: 0.1,
      axisLine: line, axisTick: tick, splitLine: gridLine,
      axisLabel: Object.assign({ margin: 6, formatter: v => String(+v.toFixed(1)) }, labelStyle),
      name: 'Transmission', nameLocation: 'middle', nameGap: 47, nameRotate: 90, nameTextStyle: nameStyle },
    rightY(0, transRange, 0.1),
    { type: 'value', gridIndex: 1, position: 'left', min: derivRange[0], max: derivRange[1], interval: 5,
      axisLine: line, axisTick: tick, splitLine: gridLine,
      axisLabel: Object.assign({ margin: 7, formatter: v => String(v) }, labelStyle),
      name: 'Dérivée dT/dt (en s{sup|-1})', nameLocation: 'middle', nameGap: 38, nameRotate: 90,
      nameTextStyle: Object.assign({ lineHeight: 26, rich: { sup: { fontFamily: FONT, fontSize: 14, fontWeight: 'bold', color: '#000', verticalAlign: 'top', lineHeight: 14 } } }, nameStyle) },
    rightY(1, derivRange, 5)
  ],
  graphic: [
    { type: 'text', x: 315, y: 27, style: { text: '6HTa 2015 10 01-WLBBM = 300.035 nm', fill: '#000', font: 'bold 27px Lato', textAlign: 'center', textVerticalAlign: 'middle', align: 'center', verticalAlign: 'middle' } },
    { type: 'text', x: 956, y: 27, style: { text: 'Dérivée de T @300.035 nm', fill: '#000', font: 'bold 26px Lato', textAlign: 'center', textVerticalAlign: 'middle', align: 'center', verticalAlign: 'middle' } },
    { type: 'text', x: 707, y: 45, style: { text: 'x 10', fill: '#000', font: '22px Lato', textAlign: 'left', textVerticalAlign: 'middle', align: 'left', verticalAlign: 'middle' } },
    { type: 'text', x: 751, y: 30, style: { text: '-3', fill: '#000', font: '14px Lato', textAlign: 'left', textVerticalAlign: 'middle', align: 'left', verticalAlign: 'middle' } }
  ],
  series: [
    { name: 'transBefore', type: 'line', xAxisIndex: 0, yAxisIndex: 0, data: zip(transBeforeT, transBeforeV),
      symbol: 'circle', symbolSize: 7, showSymbol: true, lineStyle: { color: BLUE, width: 3 }, itemStyle: { color: BLUE } },
    { name: 'transOscillation', type: 'line', xAxisIndex: 0, yAxisIndex: 0, data: transOscillation, smooth: 0.2,
      symbol: 'circle', symbolSize: 7, showSymbol: true, lineStyle: { color: BLUE, width: 7 }, itemStyle: { color: BLUE } },
    { name: 'transAfter', type: 'line', xAxisIndex: 0, yAxisIndex: 0, data: zip(transAfterT, transAfterV),
      symbol: 'circle', symbolSize: 7, showSymbol: true, lineStyle: { color: BLUE, width: 3 }, itemStyle: { color: BLUE } },
    dots('derivBefore', zip(derivBeforeT, derivBeforeV)),
    dots('derivDrop', derivDrop),
    dots('derivWaves', derivWaves),
    dots('derivWavesOdd', derivWavesOdd),
    dots('derivAfter', zip(derivAfterT, derivAfterV))
  ]
};

const chart = echarts.init(document.getElementById('c'), null, { renderer: 'svg' });
chart.setOption(option);
</script>
</body></html>
